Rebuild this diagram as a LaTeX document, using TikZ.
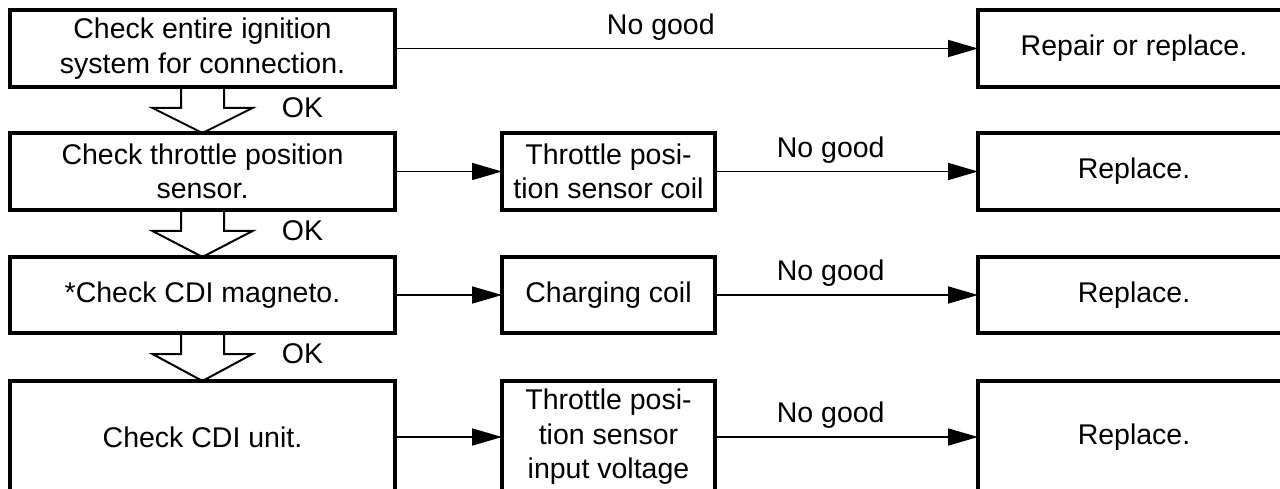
\documentclass[tikz,border=0pt]{standalone}
\usepackage{fontspec}
\setmainfont{Liberation Sans}
\usetikzlibrary{arrows.meta,calc}
\tikzset{
  box/.style={draw, line width=4pt, outer sep=0pt, inner sep=0pt, align=center,
    font=\fontsize{28.5}{34.5}\selectfont},
  conn/.style={line width=1.7pt, -{Triangle[length=30pt,width=17pt]}},
  hollow/.style={line width=2pt, line join=miter},
  lbl/.style={font=\fontsize{28.5}{34}\selectfont, inner sep=0pt},
}
\begin{document}
\begin{tikzpicture}[x=1pt,y=-1pt]
\useasboundingbox (0,0) rectangle (1280,489);
\clip (0,0) rectangle (1280,489);
% left column
\node[box, minimum width=385pt, minimum height=77pt] (l1) at (202.5,48.5) {Check entire ignition\\system for connection.};
\node[box, minimum width=385pt, minimum height=77pt] (l2) at (202.5,171.5) {Check throttle position\\sensor.};
\node[box, minimum width=385pt, minimum height=76pt] (l3) at (202.5,295) {*Check CDI magneto.};
\node[box, minimum width=385pt, minimum height=112pt] (l4) at (202.5,437) {Check CDI unit.};
% middle column
\node[box, minimum width=213pt, minimum height=77pt] (m2) at (608.5,171.5) {Throttle posi-\\tion sensor coil};
\node[box, minimum width=213pt, minimum height=76pt] (m3) at (608.5,295) {Charging coil};
\node[box, minimum width=213pt, minimum height=112pt] (m4) at (608.5,437) {Throttle posi-\\tion sensor\\input voltage};
% right column
\node[box, minimum width=312pt, minimum height=77pt] (r1) at (1134,48.5) {Repair or replace.};
\node[box, minimum width=312pt, minimum height=77pt] (r2) at (1134,171.5) {Replace.};
\node[box, minimum width=312pt, minimum height=76pt] (r3) at (1134,295) {Replace.};
\node[box, minimum width=312pt, minimum height=112pt] (r4) at (1134,437) {Replace.};
% connectors
\draw[conn] (l1) -- node[lbl, pos=.456, above=7.5pt] (ng1) {No good} (r1);
\draw[conn] (l2) -- (m2);
\draw[conn] (m2) -- node[lbl, pos=.44, above=7.5pt] (ng2) {No good} (r2);
\draw[conn] (l3) -- (m3);
\draw[conn] (m3) -- node[lbl, pos=.44, above=7.5pt] (ng3) {No good} (r3);
\draw[conn] (l4) -- (m4);
\draw[conn] (m4) -- node[lbl, pos=.44, above=7.5pt] (ng4) {No good} (r4);
% hollow OK arrows
\foreach \a/\b in {l1/l2,l2/l3,l3/l4}{
  \draw[hollow] ($(\a.south)+(-21.5,0)$) -- ++(0,21) -- ++(-28.5,0) -- (\b.north)
     -- ($(\a.south)+(50,21)$) -- ++(-28.5,0) -- ++(0,-21);
  \node[lbl] (ok\a) at ($(\a.south)+(100,21)$) {OK};
}
\end{tikzpicture}
\end{document}
